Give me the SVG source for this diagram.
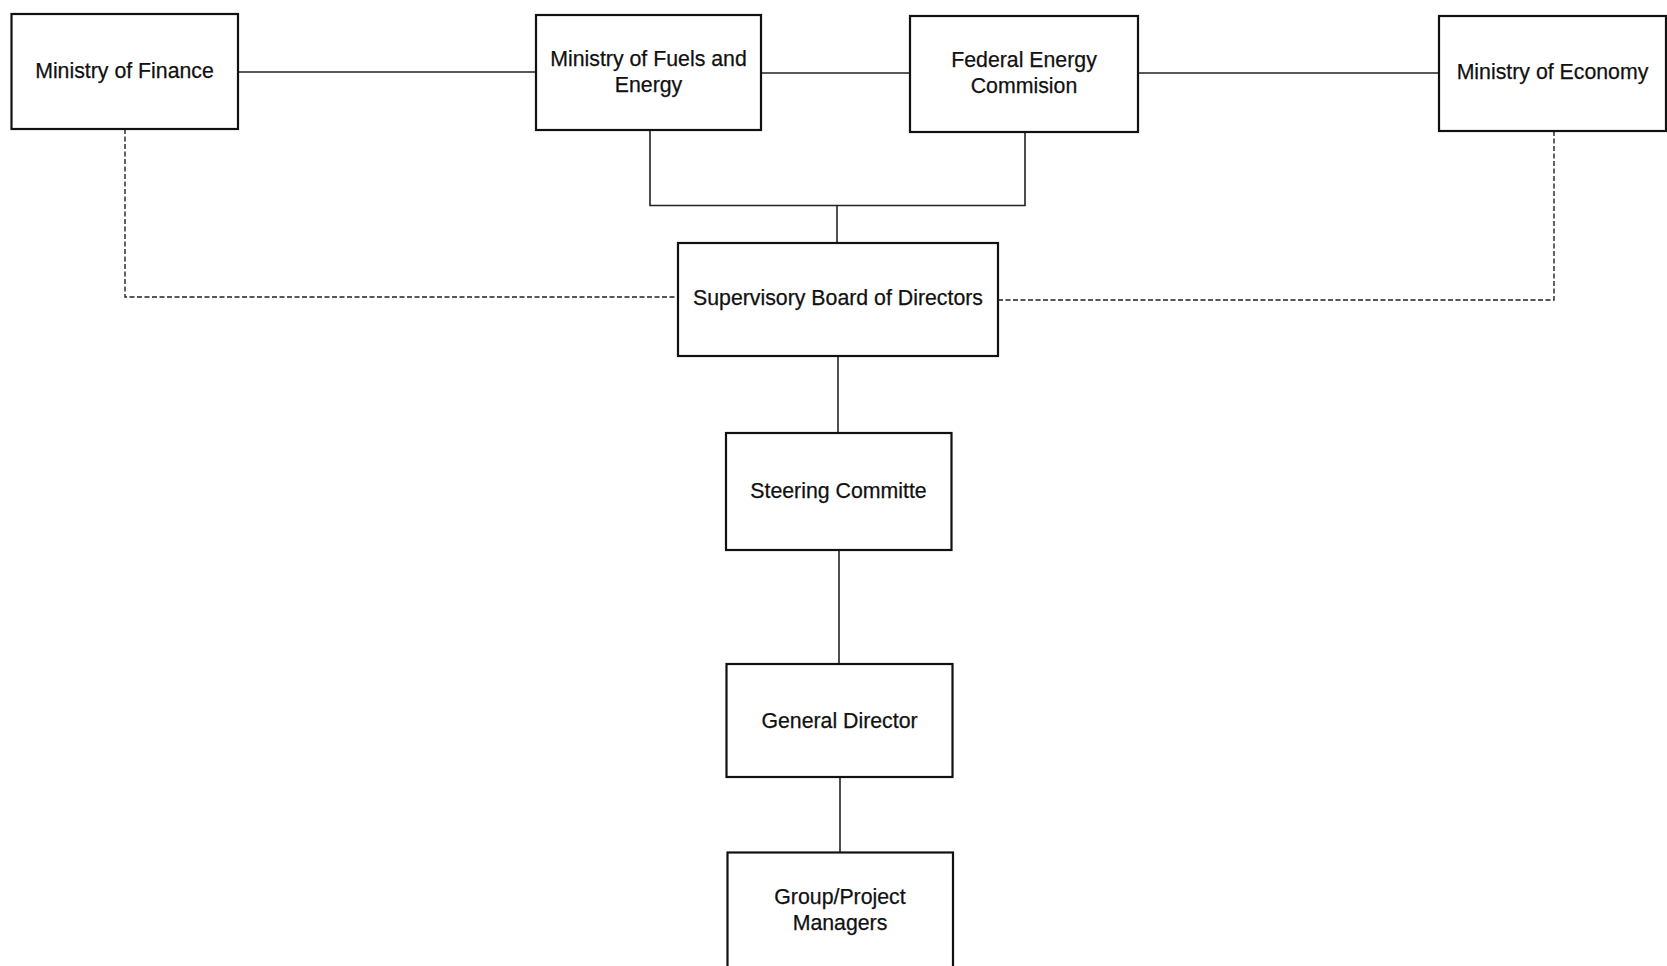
<svg xmlns="http://www.w3.org/2000/svg" width="1667" height="966" viewBox="0 0 1667 966">
<style>
.box{fill:#fff;stroke:#111;stroke-width:2.2}
.lbl{font-family:"Liberation Sans",Arial,sans-serif;font-size:21.3px;fill:#111;text-anchor:middle;stroke:#111;stroke-width:0.25}
.ln{fill:none;stroke:#222;stroke-width:1.6}
.dash{fill:none;stroke:#222;stroke-width:1.4;stroke-dasharray:5 2.5}
</style>
<rect width="1667" height="966" fill="#fff"/>
<g id="connectors">
<line class="ln" x1="238" y1="72" x2="536" y2="72"/>
<line class="ln" x1="761" y1="73" x2="910" y2="73"/>
<line class="ln" x1="1138" y1="73" x2="1439" y2="73"/>
<polyline class="ln" points="650,130 650,205.5 1025,205.5 1025,132"/>
<line class="ln" x1="837" y1="205.5" x2="837" y2="243"/>
<polyline class="dash" points="125,129 125,297 678,297"/>
<polyline class="dash" points="998,300 1554,300 1554,131"/>
<line class="ln" x1="838" y1="356" x2="838" y2="433"/>
<line class="ln" x1="839" y1="550" x2="839" y2="664"/>
<line class="ln" x1="840" y1="777" x2="840" y2="852"/>
</g>
<g id="finance">
<rect class="box" x="11.5" y="14" width="226.5" height="115"/>
<text class="lbl" x="124.5" y="77.5">Ministry of Finance</text>
</g>
<g id="fuels">
<rect class="box" x="536" y="15" width="225" height="115"/>
<text class="lbl" x="648.5" y="65.5">Ministry of Fuels and</text>
<text class="lbl" x="648.5" y="92">Energy</text>
</g>
<g id="fec">
<rect class="box" x="910" y="16" width="228" height="116"/>
<text class="lbl" x="1024" y="66.5">Federal Energy</text>
<text class="lbl" x="1024" y="93">Commision</text>
</g>
<g id="economy">
<rect class="box" x="1439" y="16" width="227" height="115"/>
<text class="lbl" x="1552.5" y="79">Ministry of Economy</text>
</g>
<g id="supervisory">
<rect class="box" x="678" y="243" width="320" height="113"/>
<text class="lbl" x="838" y="305">Supervisory Board of Directors</text>
</g>
<g id="steering">
<rect class="box" x="726" y="433" width="225.5" height="117"/>
<text class="lbl" x="838.5" y="497.5">Steering Committe</text>
</g>
<g id="general">
<rect class="box" x="726.5" y="664" width="226" height="113"/>
<text class="lbl" x="839.5" y="727.5">General Director</text>
</g>
<g id="group">
<rect class="box" x="727.5" y="852.5" width="225.5" height="130"/>
<text class="lbl" x="840" y="904">Group/Project</text>
<text class="lbl" x="840" y="930">Managers</text>
</g>
</svg>
